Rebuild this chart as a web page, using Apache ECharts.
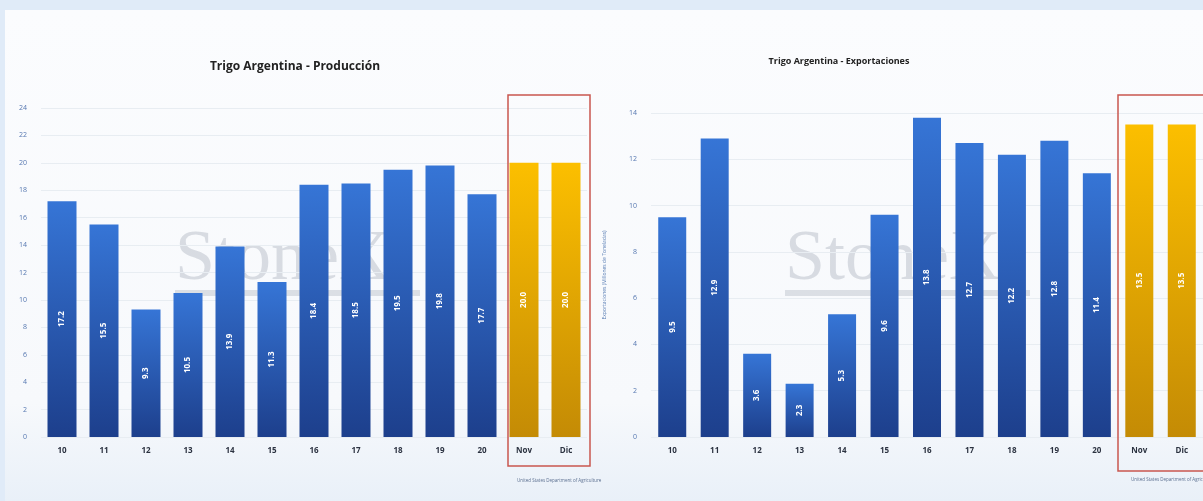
<!DOCTYPE html>
<html><head><meta charset="utf-8">
<script src="https://cdn.jsdelivr.net/npm/echarts@6/dist/echarts.min.js"></script>
<style>html,body{margin:0;padding:0;background:#e0ebf8;}#c{width:1203px;height:501px;}</style>
</head><body><div id="c"></div>
<script>
const categories = ['10','11','12','13','14','15','16','17','18','19','20','Nov','Dic'];
const produccion = [17.2,15.5,9.3,10.5,13.9,11.3,18.4,18.5,19.5,19.8,17.7,20.0,20.0];
const exportaciones = [9.5,12.9,3.6,2.3,5.3,9.6,13.8,12.7,12.2,12.8,11.4,13.5,13.5];
const estimados = ['Nov','Dic'];
const titles = ['Trigo Argentina - Producción','Trigo Argentina - Exportaciones'];
const expAxisName = 'Exportaciones (Millones de Toneladas)';
const source = 'United States Department of Agriculture';

const blue = new echarts.graphic.LinearGradient(0,0,0,1,[{offset:0,color:'#3675d6'},{offset:1,color:'#1d3f8c'}]);
const gold = new echarts.graphic.LinearGradient(0,0,0,1,[{offset:0,color:'#fcbf00'},{offset:1,color:'#c48b05'}]);
function mk(vals){
  return vals.map((v,i)=>({value:v,itemStyle:{color: estimados.includes(categories[i]) ? gold : blue}}));
}
const catAxis = (gi)=>({type:'category',gridIndex:gi,data:categories,
  axisLine:{show:false},axisTick:{show:false},
  axisLabel:{color:'#2b3240',fontSize:8,fontWeight:'bold',margin:10,fontFamily:'Open Sans'}});
const valAxis = (gi,max,extra)=>Object.assign({type:'value',gridIndex:gi,min:0,max:max,interval:2,
  axisLine:{show:false},axisTick:{show:false},
  axisLabel:{color:'#5577b0',fontSize:7,margin:14,fontFamily:'Open Sans'},
  splitLine:{lineStyle:{color:'#e8edf2',width:1}}},extra||{});
const lbl = {show:true,position:'inside',rotate:90,color:'#ffffff',fontSize:8,fontWeight:'bold',fontFamily:'Open Sans',formatter:p=>p.value.toFixed(1)};

const wm = (x)=>[
  {type:'text',left:x,top:224,z:0,silent:true,style:{text:'StoneX',font:'72px "Liberation Serif"',fill:'rgba(175,181,192,0.45)'}},
  {type:'rect',shape:{x:x,y:290,width:245,height:6},z:0,silent:true,style:{fill:'rgba(175,182,192,0.4)'}}
];

const chart = echarts.init(document.getElementById('c'),null,{renderer:'canvas'});
chart.setOption({
  backgroundColor:'transparent',
  animation:false,
  title:[
    {text:titles[0],left:290,top:56,textAlign:'center',textStyle:{fontSize:12,fontWeight:'bold',color:'#222',fontFamily:'Open Sans'}},
    {text:titles[1],left:834,top:52,textAlign:'center',textStyle:{fontSize:9,fontWeight:'bold',color:'#222',fontFamily:'Open Sans'}}
  ],
  graphic:[
    {type:'rect',shape:{x:5,y:10,width:1198,height:491},z:-10,silent:true,
     style:{fill:new echarts.graphic.LinearGradient(0,0,0,1,[{offset:0,color:'#fbfcfe'},{offset:0.8,color:'#f7f9fc'},{offset:1,color:'#e9f0f8'}])}},
    ...wm(175), ...wm(785),
    {type:'rect',shape:{x:508,y:95,width:82,height:371},z:10,silent:true,style:{fill:'none',stroke:'#c9574f',lineWidth:1.5}},
    {type:'rect',shape:{x:1118,y:95,width:100,height:376},z:10,silent:true,style:{fill:'none',stroke:'#c9574f',lineWidth:1.5}},
    {type:'text',left:517,top:478,z:10,silent:true,style:{text:source,font:'4.5px "Open Sans"',fill:'#5b6f90'}},
    {type:'text',left:1131,top:477,z:10,silent:true,style:{text:source,font:'4.5px "Open Sans"',fill:'#5b6f90'}}
  ],
  grid:[
    {left:41,top:108,width:546,height:329},
    {left:651,top:113,width:554,height:324}
  ],
  xAxis:[catAxis(0),catAxis(1)],
  yAxis:[valAxis(0,24),valAxis(1,14,{name:expAxisName,nameLocation:'middle',nameGap:44,nameRotate:90,
    nameTextStyle:{fontSize:5,color:'#5b7fb5',fontFamily:'Open Sans'}})],
  series:[
    {type:'bar',xAxisIndex:0,yAxisIndex:0,data:mk(produccion),barWidth:29,label:lbl,z:3},
    {type:'bar',xAxisIndex:1,yAxisIndex:1,data:mk(exportaciones),barWidth:28,label:lbl,z:3}
  ]
});
</script></body></html>
